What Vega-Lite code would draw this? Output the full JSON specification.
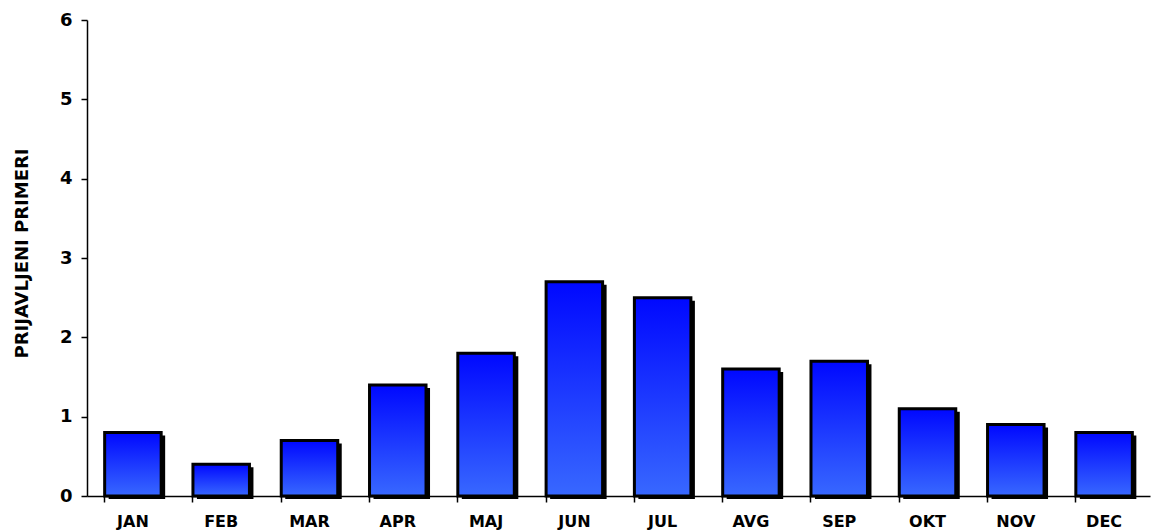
{
  "$schema": "https://vega.github.io/schema/vega-lite/v6.json",
  "autosize": "none",
  "width": 1063,
  "height": 476,
  "padding": {"left": 87, "top": 20, "right": 1, "bottom": 36},
  "background": "white",
  "config": {"view": {"stroke": null}},
  "data": {"values": [
    {"mesec": "JAN", "primeri": 0.8},
    {"mesec": "FEB", "primeri": 0.4},
    {"mesec": "MAR", "primeri": 0.7},
    {"mesec": "APR", "primeri": 1.4},
    {"mesec": "MAJ", "primeri": 1.8},
    {"mesec": "JUN", "primeri": 2.7},
    {"mesec": "JUL", "primeri": 2.5},
    {"mesec": "AVG", "primeri": 1.6},
    {"mesec": "SEP", "primeri": 1.7},
    {"mesec": "OKT", "primeri": 1.1},
    {"mesec": "NOV", "primeri": 0.9},
    {"mesec": "DEC", "primeri": 0.8}
  ]},
  "encoding": {
    "x": {
      "field": "mesec", "type": "nominal", "sort": null,
      "scale": {"paddingInner": 0.36, "paddingOuter": 0.2},
      "axis": {
        "title": null, "labelAngle": 0, "labelFont": "DejaVu Sans", "labelFontSize": 16,
        "labelFontWeight": "bold", "labelColor": "black", "labelPadding": 11,
        "domainColor": "black", "domainWidth": 1.5, "tickColor": "black", "tickSize": 6,
        "tickWidth": 1.5, "bandPosition": 0
      }
    },
    "y": {
      "field": "primeri", "type": "quantitative",
      "scale": {"domain": [0, 6], "nice": false},
      "axis": {
        "title": "PRIJAVLJENI PRIMERI", "titleFont": "DejaVu Sans", "titleFontSize": 18,
        "titleFontWeight": "bold", "titleColor": "black", "titlePadding": 28,
        "titleY": 233,
        "values": [0, 1, 2, 3, 4, 5, 6], "grid": false,
        "labelFont": "DejaVu Sans", "labelFontSize": 18, "labelFontWeight": "bold",
        "labelColor": "black", "labelPadding": 9,
        "domainColor": "black", "domainWidth": 1.5, "tickColor": "black", "tickSize": 6, "tickWidth": 1.5
      }
    }
  },
  "layer": [
    {
      "mark": {"type": "bar", "fill": "black", "xOffset": 4, "x2Offset": 4, "yOffset": 3, "y2Offset": 0}
    },
    {
      "mark": {
        "type": "bar", "stroke": "black", "strokeWidth": 3,
        "fill": {
          "gradient": "linear", "x1": 0, "y1": 0, "x2": 0, "y2": 1,
          "stops": [
            {"offset": 0, "color": "#0008ff"},
            {"offset": 1, "color": "#3868ff"}
          ]
        }
      }
    }
  ]
}
